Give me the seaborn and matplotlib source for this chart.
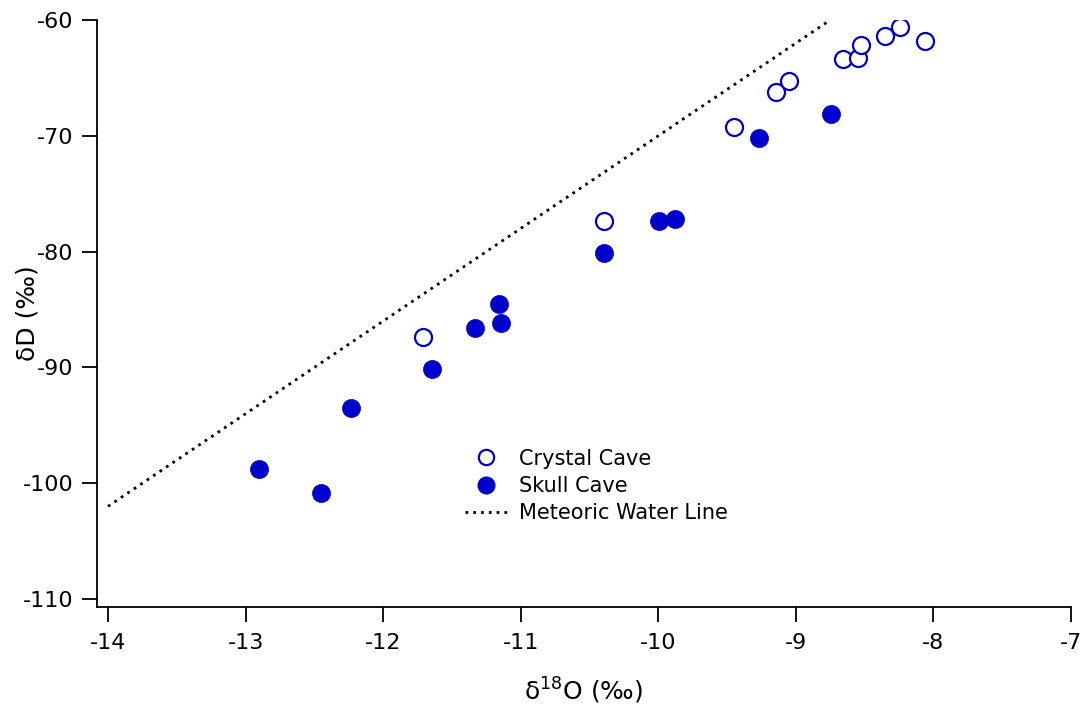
import matplotlib
matplotlib.use("Agg")
import matplotlib.pyplot as plt
import seaborn as sns
import pandas as pd
from matplotlib.lines import Line2D

# Crystal Cave samples (open circles)
crystal_d18o = [-11.71, -10.395, -9.45, -9.144, -9.05, -8.657, -8.548, -8.526, -8.352, -8.243, -8.061]
crystal_dd = [-87.37, -77.36, -69.24, -66.22, -65.27, -63.37, -63.28, -62.16, -61.38, -60.60, -61.81]

# Skull Cave samples (filled circles)
skull_d18o = [-12.90, -12.452, -12.234, -11.645, -11.332, -11.158, -11.143, -10.395, -9.995, -9.878, -9.265, -8.745]
skull_dd = [-98.77, -100.85, -93.51, -90.14, -86.60, -84.53, -86.17, -80.12, -77.36, -77.18, -70.19, -68.12]

# Meteoric water line end points
mwl_d18o = [-14.0, -8.75]
mwl_dd = [-102.0, -60.0]

x_ticks = [-14, -13, -12, -11, -10, -9, -8, -7]
y_ticks = [-110, -100, -90, -80, -70, -60]

blue = "#0000CC"
dots = (0, (1.0, 1.8))

sns.set_style("ticks")
plt.rcParams['font.family'] = ['DejaVu Sans']
plt.rcParams['mathtext.default'] = 'regular'
plt.rcParams['text.color'] = 'black'
plt.rcParams['axes.labelcolor'] = 'black'

crystal = pd.DataFrame({"d18O": crystal_d18o, "dD": crystal_dd})
skull = pd.DataFrame({"d18O": skull_d18o, "dD": skull_dd})
mwl = pd.DataFrame({"d18O": mwl_d18o, "dD": mwl_dd})

fig = plt.figure(figsize=(10.86, 7.15), dpi=100)
ax = fig.add_axes([97/1086, 1-607/715, (1071-97)/1086, (607-20)/715])

ax.plot(mwl["d18O"], mwl["dD"], color="black", lw=2.0, linestyle=dots)
sns.scatterplot(data=crystal, x="d18O", y="dD", ax=ax, s=150, marker="o",
                facecolor="white", edgecolor=blue, linewidth=1.6, zorder=3)
sns.scatterplot(data=skull, x="d18O", y="dD", ax=ax, s=170, marker="o",
                color=blue, edgecolor=blue, linewidth=0.5, zorder=3)

ax.set_xlim(-14.08, -7)
ax.set_ylim(-110.69, -60)
ax.set_xticks(x_ticks)
ax.set_yticks(y_ticks)
ax.set_xticklabels([str(t) for t in x_ticks])
ax.set_yticklabels([str(t) for t in y_ticks])
sns.despine(ax=ax)
for s in ["left", "bottom"]:
    ax.spines[s].set_linewidth(1.3)
    ax.spines[s].set_color("black")
ax.tick_params(axis="both", direction="out", length=11, width=1.3, labelsize=16, pad=6,
               colors="black", labelcolor="black")
ax.tick_params(axis="x", pad=8)

ax.set_xlabel("δ$^{18}$O (‰)", fontsize=18, labelpad=16)
ax.set_ylabel("δD (‰)", fontsize=18, va="center")
ax.yaxis.set_label_coords(-0.071, 0.5)

handles = [
    Line2D([], [], marker="o", linestyle="none", markersize=11, markerfacecolor="white",
           markeredgecolor=blue, markeredgewidth=1.6),
    Line2D([], [], marker="o", linestyle="none", markersize=12, markerfacecolor=blue,
           markeredgecolor=blue),
    Line2D([], [], color="black", lw=2.0, linestyle=dots),
]
labels = ["Crystal Cave", "Skull Cave", "Meteoric Water Line"]
ax.legend(handles, labels, loc="upper left", bbox_to_anchor=(0.378, 0.27), frameon=False,
          fontsize=15, handlelength=2.0, handletextpad=0.6, labelspacing=0.35,
          borderpad=0, borderaxespad=0)

fig.savefig("out.png", dpi=100)
